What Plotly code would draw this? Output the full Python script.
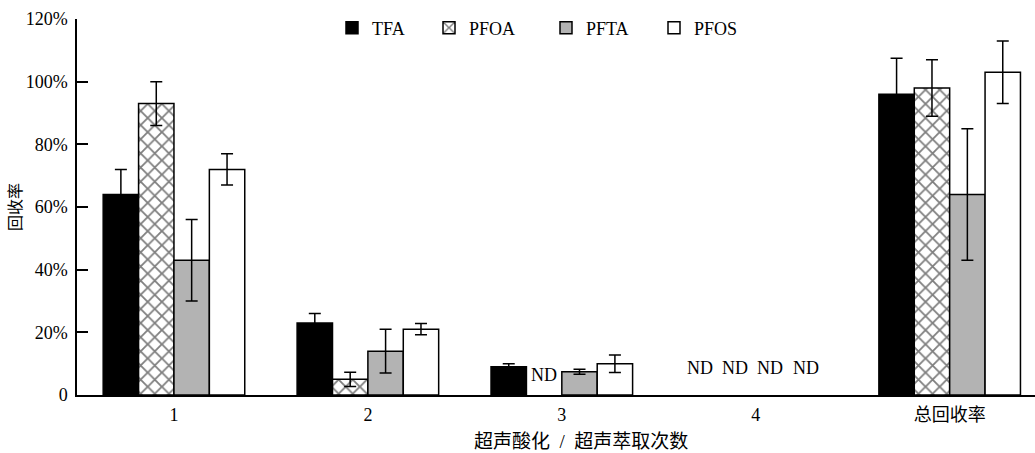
import plotly.graph_objects as go

# Recovery by extraction round (%), mean and error
categories = ["1", "2", "3", "4", "总回收率"]
series_names = ["TFA", "PFOA", "PFTA", "PFOS"]

tfa = [64, 23, 9, None, 96]
tfa_err = [8, 3, 1, None, 11.5]
pfoa = [93, 5, None, None, 98]
pfoa_err = [7, 2.3, None, None, 9]
pfta = [43, 14, 7.4, None, 64]
pfta_err = [13, 7, 0.8, None, 21]
pfos = [72, 21, 10, None, 103]
pfos_err = [5, 1.8, 2.8, None, 10]

y_tickvals = [0, 20, 40, 60, 80, 100, 120]
y_ticktext = ["0", "20%", "40%", "60%", "80%", "100%", "120%"]

FONT = "Liberation Serif, 'Times New Roman', 'Noto Sans CJK SC', serif"
W, H = 1035, 453
M_L, M_R, M_T, M_B = 77, 0, 19, 58
BARGAP = 0.27
X_RANGE = [-0.5, 4.44]

values = [tfa, pfoa, pfta, pfos]
errors = [tfa_err, pfoa_err, pfta_err, pfos_err]
styles = [
    dict(color="black"),
    dict(color="white", pattern=dict(shape="x", fgcolor="black", bgcolor="white",
                                     size=10, solidity=0.33)),
    dict(color="#b3b3b3"),
    dict(color="white"),
]
legend_ids = ["legend", "legend2", "legend3", "legend4"]
legend_px = [332, 429, 546, 654]

fig = go.Figure()
for name, vals, errs, st, lg in zip(series_names, values, errors, styles, legend_ids):
    fig.add_trace(go.Bar(
        name=name, x=categories, y=vals,
        marker=dict(line=dict(color="black", width=1.5), **st),
        error_y=dict(type="data", array=errs, visible=True, color="black",
                     thickness=1.5, width=6),
        legend=lg, showlegend=True,
    ))

plot_w = W - M_L - M_R
plot_h = H - M_T - M_B
cat_px = plot_w / (X_RANGE[1] - X_RANGE[0])
bar_px = cat_px * (1 - BARGAP) / len(series_names)

# "ND" marks where a compound was not detected
annotations = []
for si, vals in enumerate(values):
    for ci, v in enumerate(vals):
        if v is None:
            annotations.append(dict(
                x=ci, y=0, xref="x", yref="y", text="ND",
                showarrow=False, yanchor="middle",
                yshift=20 if ci == 2 else 27,
                xshift=(si - 1.5) * bar_px - (0 if ci == 2 else 3),
                font=dict(family=FONT, size=18, color="black"),
            ))

# x-axis title
annotations.append(dict(
    x=(581 - M_L) / plot_w, y=0, xref="paper", yref="paper",
    yanchor="middle", yshift=-(441 - (H - M_B)), showarrow=False,
    text="超声酸化\u2002/\u2002超声萃取次数",
    font=dict(family=FONT, size=19, color="black"),
))

layout_legends = {}
for lg, px in zip(legend_ids, legend_px):
    layout_legends[lg] = dict(
        x=(px - M_L) / plot_w, xanchor="left",
        y=1 - (28 - M_T) / plot_h, yanchor="middle",
        orientation="h", bgcolor="rgba(0,0,0,0)",
        font=dict(family=FONT, size=18, color="black"),
        itemwidth=30, tracegroupgap=0, visible=True,
    )

fig.update_layout(
    width=W, height=H,
    margin=dict(l=M_L, r=M_R, t=M_T, b=M_B, pad=0),
    paper_bgcolor="white", plot_bgcolor="white",
    barmode="group", bargap=BARGAP, bargroupgap=0,
    font=dict(family=FONT, size=18, color="black"),
    showlegend=True,
    annotations=annotations,
    **layout_legends,
)
fig.update_xaxes(
    type="category", range=X_RANGE, showline=True, linecolor="black", linewidth=1.5,
    ticks="", showgrid=False, zeroline=False,
    tickfont=dict(family=FONT, size=18, color="black"), ticklabelstandoff=3,
)
fig.update_yaxes(
    range=[0, 120], tickvals=y_tickvals, ticktext=y_ticktext,
    showline=True, linecolor="black", linewidth=1.5,
    ticks="inside", ticklen=11, tickwidth=1.5, tickcolor="black",
    showgrid=False, zeroline=False,
    tickfont=dict(family=FONT, size=18, color="black"), ticklabelstandoff=4,
    title=dict(text="回收率", font=dict(family=FONT, size=16, color="black"), standoff=0),
)

fig.write_html("out.html")
